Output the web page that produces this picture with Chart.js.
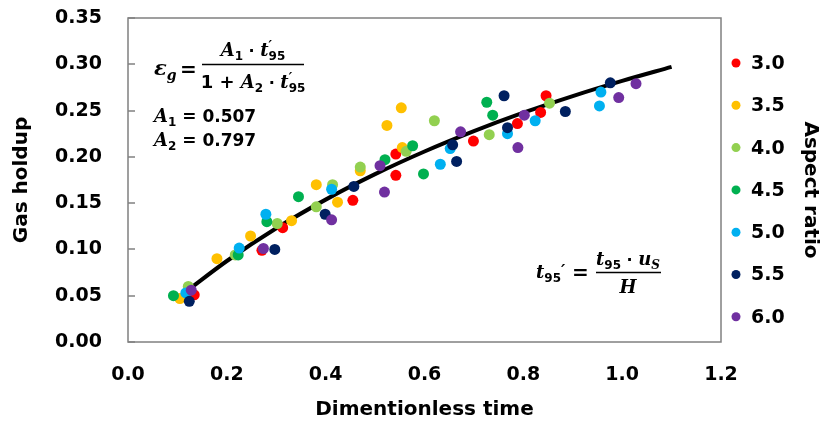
<!DOCTYPE html>
<html>
<head>
<meta charset="utf-8">
<script src="https://cdn.jsdelivr.net/npm/chart.js@4.4.1/dist/chart.umd.min.js"></script>
<style>
    html, body { margin: 0; padding: 0; background: #fff; }
    #wrap { width: 825px; height: 423px; }
</style>
</head>
<body>
<div id="wrap"><canvas id="chart"></canvas></div>
<script>

// aspect ratio groups and their colours
const aspectRatios = ['3.0', '3.5', '4.0', '4.5', '5.0', '5.5', '6.0'];
const seriesColors = ['#FF0000', '#FFC000', '#92D050', '#00B050', '#00B0F0', '#002060', '#7030A0'];

// measured points, one pair of arrays per aspect ratio
const ar30X = [0.134, 0.271, 0.313, 0.455, 0.542, 0.542, 0.699, 0.788, 0.835, 0.846];
const ar30Y = [0.051, 0.099, 0.1235, 0.153, 0.203, 0.180, 0.217, 0.236, 0.248, 0.266];

const ar35X = [0.105, 0.180, 0.248, 0.331, 0.381, 0.424, 0.470, 0.524, 0.553, 0.555];
const ar35Y = [0.047, 0.090, 0.1145, 0.131, 0.170, 0.151, 0.185, 0.234, 0.253, 0.210];

const ar40X = [0.122, 0.217, 0.302, 0.381, 0.414, 0.470, 0.563, 0.620, 0.731, 0.853];
const ar40Y = [0.060, 0.094, 0.128, 0.146, 0.170, 0.189, 0.206, 0.239, 0.224, 0.258];

const ar45X = [0.092, 0.223, 0.281, 0.345, 0.520, 0.576, 0.598, 0.726, 0.738];
const ar45Y = [0.050, 0.094, 0.130, 0.157, 0.197, 0.212, 0.1815, 0.259, 0.245];

const ar50X = [0.117, 0.225, 0.279, 0.412, 0.632, 0.652, 0.768, 0.824, 0.954, 0.957];
const ar50Y = [0.053, 0.1015, 0.138, 0.165, 0.192, 0.209, 0.225, 0.239, 0.255, 0.270];

const ar55X = [0.124, 0.297, 0.399, 0.457, 0.657, 0.665, 0.761, 0.768, 0.885, 0.976];
const ar55Y = [0.044, 0.100, 0.138, 0.168, 0.213, 0.195, 0.266, 0.2315, 0.249, 0.280];

const ar60X = [0.128, 0.274, 0.412, 0.510, 0.519, 0.673, 0.789, 0.802, 0.993, 1.028];
const ar60Y = [0.056, 0.101, 0.132, 0.1905, 0.162, 0.227, 0.210, 0.245, 0.264, 0.279];

// fitted curve
const fitX = [0.12, 0.2, 0.3, 0.4, 0.5, 0.6, 0.7, 0.8, 0.9, 1.0, 1.1];
const fitY = [0.0555, 0.0875, 0.1228, 0.1538, 0.1813, 0.2058, 0.2278, 0.2477, 0.2657, 0.2821, 0.2972];

// axis ticks
const xTicks = [0.0, 0.2, 0.4, 0.6, 0.8, 1.0, 1.2];
const yTicks = [0.00, 0.05, 0.10, 0.15, 0.20, 0.25, 0.30, 0.35];

const seriesX = [ar30X, ar35X, ar40X, ar45X, ar50X, ar55X, ar60X];
const seriesY = [ar30Y, ar35Y, ar40Y, ar45Y, ar50Y, ar55Y, ar60Y];

const toPoints = (xs, ys) => xs.map((x, i) => ({ x, y: ys[i] }));

const sansB = s => `bold ${s}px "DejaVu Sans"`;
const serifBI = s => `italic bold ${s}px "DejaVu Serif"`;


function runs(ctx, list, x, y, draw) {
    let cx = x;
    list.forEach(r => {
        ctx.font = r.f;
        if (draw) ctx.fillText(r.t, cx, y + (r.dy || 0));
        if (!r.noAdv) cx += ctx.measureText(r.t).width;
    });
    return cx - x;
}

function centeredRuns(ctx, list, cx, y) {
    const w = runs(ctx, list, 0, 0, false);
    runs(ctx, list, cx - w / 2, y, true);
}

const tPrime95 = [
    { t: 't', f: serifBI(18) },
    { t: '\u2032', f: serifBI(13), dy: -6, noAdv: true },
    { t: '95', f: sansB(12), dy: 4 }
];


const framePlugin = {
    id: 'frame',

    afterDatasetsDraw(chart) {

        const { ctx, chartArea: a, scales } = chart;

        ctx.save();

        const L = Math.round(a.left);
        const R = Math.round(a.right);
        const T = Math.round(a.top);
        const B = Math.round(a.bottom);

        // plot border
        ctx.strokeStyle = '#808080';
        ctx.lineWidth = 1.5;
        ctx.strokeRect(L, T, R - L, B - T);

        // inside tick marks on the y axis
        yTicks.forEach(v => {
            const py = Math.round(scales.y.getPixelForValue(v));
            ctx.beginPath();
            ctx.moveTo(L, py);
            ctx.lineTo(L + 7, py);
            ctx.stroke();
        });

        ctx.fillStyle = '#000';
        ctx.textAlign = 'left';
        ctx.textBaseline = 'alphabetic';

        // fitted equation
        runs(ctx, [
            { t: '\u03b5', f: serifBI(21) },
            { t: 'g', f: serifBI(14), dy: 5 }
        ], 154, 75, true);

        ctx.font = sansB(20);
        ctx.fillText('=', 180, 76);

        ctx.lineWidth = 1.5;
        ctx.strokeStyle = '#000';
        ctx.beginPath();
        ctx.moveTo(202, 64.5);
        ctx.lineTo(304, 64.5);
        ctx.stroke();

        centeredRuns(ctx, [
            { t: 'A', f: serifBI(18) },
            { t: '1', f: sansB(12), dy: 4 },
            { t: ' \u00b7 ', f: sansB(16) },
            ...tPrime95
        ], 253, 56);

        centeredRuns(ctx, [
            { t: '1 + ', f: sansB(18) },
            { t: 'A', f: serifBI(18) },
            { t: '2', f: sansB(12), dy: 4 },
            { t: ' \u00b7 ', f: sansB(16) },
            ...tPrime95
        ], 253, 88);

        runs(ctx, [
            { t: 'A', f: serifBI(18) },
            { t: '1', f: sansB(12), dy: 4 },
            { t: ' = 0.507', f: sansB(17) }
        ], 154, 122, true);

        runs(ctx, [
            { t: 'A', f: serifBI(18) },
            { t: '2', f: sansB(12), dy: 4 },
            { t: ' = 0.797', f: sansB(17) }
        ], 154, 146, true);

        // definition of dimensionless time
        runs(ctx, [
            { t: 't', f: serifBI(18) },
            { t: '95', f: sansB(12), dy: 4 },
            { t: '\u2032', f: serifBI(16), dy: -2 }
        ], 536, 278, true);

        ctx.font = sansB(20);
        ctx.fillText('=', 572, 279);

        ctx.beginPath();
        ctx.moveTo(596, 272.5);
        ctx.lineTo(661, 272.5);
        ctx.stroke();

        centeredRuns(ctx, [
            { t: 't', f: serifBI(18) },
            { t: '95', f: sansB(12), dy: 4 },
            { t: ' \u00b7 ', f: sansB(16) },
            { t: 'u', f: serifBI(18) },
            { t: 'S', f: serifBI(12), dy: 4 }
        ], 628, 265);

        centeredRuns(ctx, [
            { t: 'H', f: serifBI(18) }
        ], 628, 293);

        // legend on the right
        const lx = a.right + 15;
        ctx.textBaseline = 'middle';
        chart.data.datasets.forEach(ds => {
            if (!ds.legend) return;
            const ly = 63 + (ds.legend - 1) * 42.3;
            ctx.fillStyle = ds.backgroundColor;
            ctx.beginPath();
            ctx.arc(lx, ly, 4.5, 0, Math.PI * 2);
            ctx.fill();
            ctx.fillStyle = '#000';
            ctx.font = sansB(19);
            ctx.fillText(ds.label, lx + 15, ly + 1);
        });

        // legend title
        ctx.translate(810, 190);
        ctx.rotate(Math.PI / 2);
        ctx.textAlign = 'center';
        ctx.font = sansB(20);
        ctx.fillText('Aspect ratio', 0, 0);

        ctx.restore();
    }
};


const datasets = aspectRatios.map((label, i) => ({
    type: 'scatter',
    label,
    legend: i + 1,
    data: toPoints(seriesX[i], seriesY[i]),
    backgroundColor: seriesColors[i],
    borderWidth: 0,
    pointRadius: 5.5,
    pointHoverRadius: 5.5,
    order: aspectRatios.length - i
}));

datasets.push({
    type: 'line',
    label: 'fit',
    data: toPoints(fitX, fitY),
    borderColor: '#000',
    borderWidth: 4,
    pointRadius: 0,
    fill: false,
    cubicInterpolationMode: 'monotone',
    order: 20
});


new Chart(document.getElementById('chart'), {

    data: { datasets },

    options: {

        responsive: true,
        maintainAspectRatio: false,
        animation: false,

        layout: {
            padding: { top: 18, right: 104, left: 0, bottom: 0 }
        },

        plugins: {
            legend: { display: false },
            tooltip: { enabled: false }
        },

        scales: {

            x: {
                type: 'linear',
                min: 0,
                max: 1.2,
                afterFit: s => { s.height = 81; },
                afterBuildTicks: s => { s.ticks = xTicks.map(v => ({ value: v })); },
                grid: { display: false, drawTicks: false },
                border: { display: false },
                ticks: {
                    padding: 22,
                    color: '#000',
                    font: { family: 'DejaVu Sans', weight: 'bold', size: 19 },
                    callback: v => v.toFixed(1)
                },
                title: {
                    display: true,
                    text: 'Dimentionless time',
                    color: '#000',
                    font: { family: 'DejaVu Sans', weight: 'bold', size: 20 },
                    padding: { top: 0, bottom: 1 }
                }
            },

            y: {
                type: 'linear',
                min: 0,
                max: 0.35,
                afterFit: s => {
                    s.width = 128;
                    s.paddingTop = 0;
                    s.paddingBottom = 0;
                },
                afterBuildTicks: s => { s.ticks = yTicks.map(v => ({ value: v })); },
                grid: { display: false, drawTicks: false },
                border: { display: false },
                ticks: {
                    padding: 26,
                    color: '#000',
                    font: { family: 'DejaVu Sans', weight: 'bold', size: 19 },
                    callback: v => v.toFixed(2)
                },
                title: {
                    display: true,
                    text: 'Gas holdup',
                    color: '#000',
                    font: { family: 'DejaVu Sans', weight: 'bold', size: 20 },
                    padding: { top: 10, bottom: 0 }
                }
            }
        }
    },

    plugins: [framePlugin]
});

</script>
</body>
</html>
